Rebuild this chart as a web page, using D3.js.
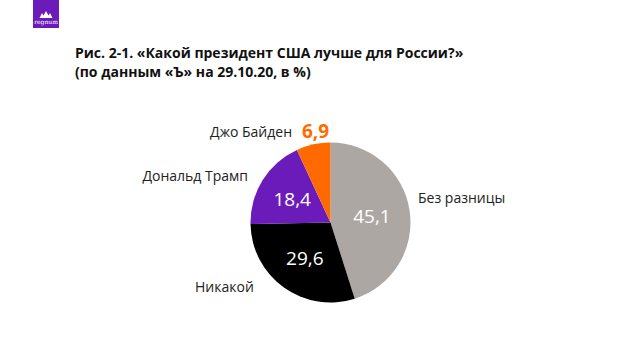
<!DOCTYPE html>
<html><head><meta charset="utf-8">
<script src="https://cdn.jsdelivr.net/npm/d3@7"></script>
<style>body{margin:0;background:#fff}svg{display:block;font-family:"Open Sans",sans-serif}</style>
</head><body>
<svg id="c" width="640" height="360"></svg>
<script>
const categories = ["Без разницы", "Никакой", "Дональд Трамп", "Джо Байден"];
const values = [45.1, 29.6, 18.4, 6.9];
const valueLabels = ["45,1", "29,6", "18,4", "6,9"];
const colors = ["#ada7a4", "#000000", "#6c1bbb", "#ff6a00"];

const svg = d3.select("#c");
// logo
svg.append("rect").attr("x",33).attr("y",0).attr("width",26).attr("height",28).attr("fill","#6c1bbb");
svg.append("path").attr("d","M39.5,18 L42,13 L43.5,15.5 L46,11 L48.5,15.5 L50,13 L52.5,18 Z").attr("fill","#fff");
svg.append("text").attr("x",46).attr("y",24).attr("text-anchor","middle").attr("font-size",6).attr("font-family","DejaVu Serif").attr("fill","#fff").text("regnum");

const t = svg.append("text").attr("font-weight","bold").attr("font-size",14).attr("fill","#111");
t.append("tspan").attr("x",75).attr("y",58).text("Рис. 2-1. «Какой президент США лучше для России?»");
t.append("tspan").attr("x",75).attr("y",77).text("(по данным «Ъ» на 29.10.20, в %)");

const cx=330.5, cy=222.5, r=80;
const pie = d3.pie().sort(null).value(d=>d)(values);
const arc = d3.arc().innerRadius(0).outerRadius(r);
const g = svg.append("g").attr("transform",`translate(${cx},${cy})`);
g.selectAll("path").data(pie).join("path").attr("d",arc).attr("fill",(d,i)=>colors[i]);

const inner = d3.arc().innerRadius(r*0.55).outerRadius(r*0.55);
pie.forEach((d,i)=>{
  if(i===3) return;
  const [x,y]=inner.centroid(d);
  g.append("text").attr("x",x+(i===0?-2:(i===2?-1:0))).attr("y",y+7).attr("text-anchor","middle")
   .attr("font-size",19).attr("fill","#fff").text(valueLabels[i]);
});
// outer labels
const lab = [
  {i:0, x:418, y:203, a:"start"},
  {i:1, x:195, y:292, a:"start"},
  {i:2, x:248, y:181, a:"end"},
  {i:3, x:292, y:137, a:"end"}
];
lab.forEach(l=>{
  svg.append("text").attr("x",l.x).attr("y",l.y).attr("text-anchor",l.a).attr("font-size",14).attr("fill","#222").text(categories[l.i]);
});
svg.append("text").attr("x",302).attr("y",138).attr("font-size",19).attr("font-weight","bold").attr("fill",colors[3]).text(valueLabels[3]);
</script>
</body></html>
